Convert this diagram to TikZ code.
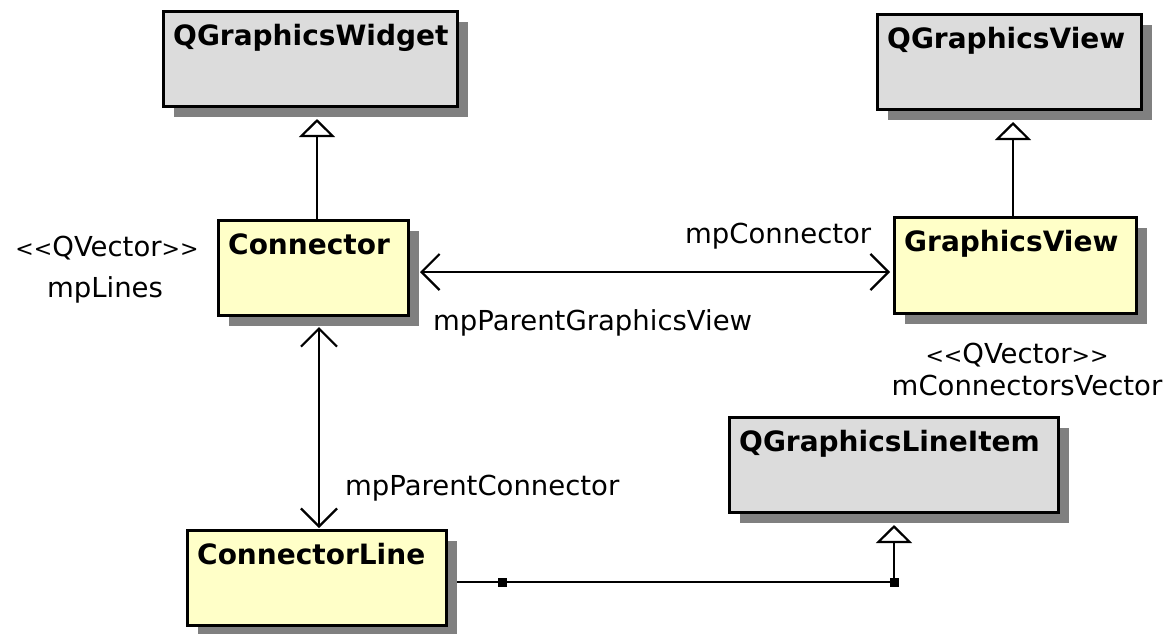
\documentclass[tikz,border=0pt]{standalone}
\usepackage{fontspec}
\setmainfont{DejaVu Sans}
\usetikzlibrary{arrows.meta,shadows}
\definecolor{boxgray}{HTML}{DCDCDC}
\definecolor{boxyellow}{HTML}{FFFFC8}
\definecolor{shadowgray}{HTML}{808080}
\newcommand{\qvec}{{\fontsize{22}{24}\selectfont<\kern0pt<}QVector{\fontsize{22}{24}\selectfont>\kern0pt>}}
\begin{document}
\begin{tikzpicture}[x=1pt,y=-1pt,
  umlbox/.style={draw=black, line width=3pt, rectangle, inner sep=0pt, minimum height=95pt,
    drop shadow={shadow xshift=10pt, shadow yshift=-10pt, fill=shadowgray, opacity=1}},
  basebox/.style={umlbox, fill=boxgray},
  classbox/.style={umlbox, fill=boxyellow},
  title/.style={anchor=base west, inner sep=0pt, font=\fontsize{28}{32}\selectfont\bfseries},
  role/.style={inner sep=0pt, font=\fontsize{27.5}{32}\selectfont},
  link/.style={line width=2.8pt},
  inherit/.style={link, -{Triangle[open, length=18pt, width=36pt, line width=2.2pt]}},
  barb/.tip={Straight Barb[length=18pt, width=36pt, line width=2.2pt]},
  assoc/.style={link, barb-barb},
  joint/.style={fill=black, minimum size=9pt, inner sep=0pt, rectangle}
]
\useasboundingbox[fill=white] (0,0) rectangle (1170,633);

% class boxes
\node[basebox, minimum width=294pt] (qgw) at (310.5,59) {};
\node[basebox, minimum width=264pt] (qgv) at (1009.5,62) {};
\node[classbox, minimum width=190pt] (con) at (313.5,268) {};
\node[classbox, minimum width=242pt, minimum height=96pt] (gv) at (1015.5,265.5) {};
\node[basebox, minimum width=329pt] (qgli) at (894,465) {};
\node[classbox, minimum width=259pt] (cl) at (317,578) {};

% class names
\node[title] (qgwt) at ([shift={(11pt,-35pt)}]qgw.north west) {QGraphicsWidget};
\node[title] (qgvt) at ([shift={(11pt,-35pt)}]qgv.north west) {QGraphicsView};
\node[title] (cont) at ([shift={(11pt,-35pt)}]con.north west) {Connector};
\node[title] (gvt) at ([shift={(11pt,-35pt)}]gv.north west) {GraphicsView};
\node[title] (qglit) at ([shift={(11pt,-35pt)}]qgli.north west) {QGraphicsLineItem};
\node[title] (clt) at ([shift={(11pt,-35pt)}]cl.north west) {ConnectorLine};

% guide coordinates for connector routes
\coordinate (ix1) at (317,0);
\coordinate (ix2) at (1013,0);
\coordinate (ay) at (0,272);
\coordinate (vx) at (319,0);
\coordinate (by) at (0,582);

% generalisations
\draw[inherit] (con.north -| ix1) -- ([yshift=-11pt]qgw.south -| ix1);
\draw[inherit] (gv.north -| ix2) -- ([yshift=-11pt]qgv.south -| ix2);
\draw[inherit] ([xshift=9pt]cl.east |- by) -| ([yshift=-11pt]qgli.south);
\node[joint] (j1) at (502,582) {};
\node[joint] (j2) at (qgli.south |- by) {};

% associations
\draw[assoc] ([xshift=10pt]con.east |- ay) -- ([xshift=-3pt]gv.west |- ay);
\draw[assoc] ([yshift=-10pt]con.south -| vx) -- ([yshift=1pt]cl.north -| vx);

% role names
\node[role, anchor=base] (r1) at (107,256) {\qvec};
\node[role, anchor=base] (r2) at (105,297) {mpLines};
\node[role, anchor=base west] (r3) at (685,243) {mpConnector};
\node[role, anchor=base west] (r4) at (433,330) {mpParentGraphicsView};
\node[role, anchor=base] (r5) at (1017,363) {\qvec};
\node[role, anchor=base] (r6) at (1027,395) {mConnectorsVector};
\node[role, anchor=base west] (r7) at (345,495) {mpParentConnector};
\end{tikzpicture}
\end{document}
